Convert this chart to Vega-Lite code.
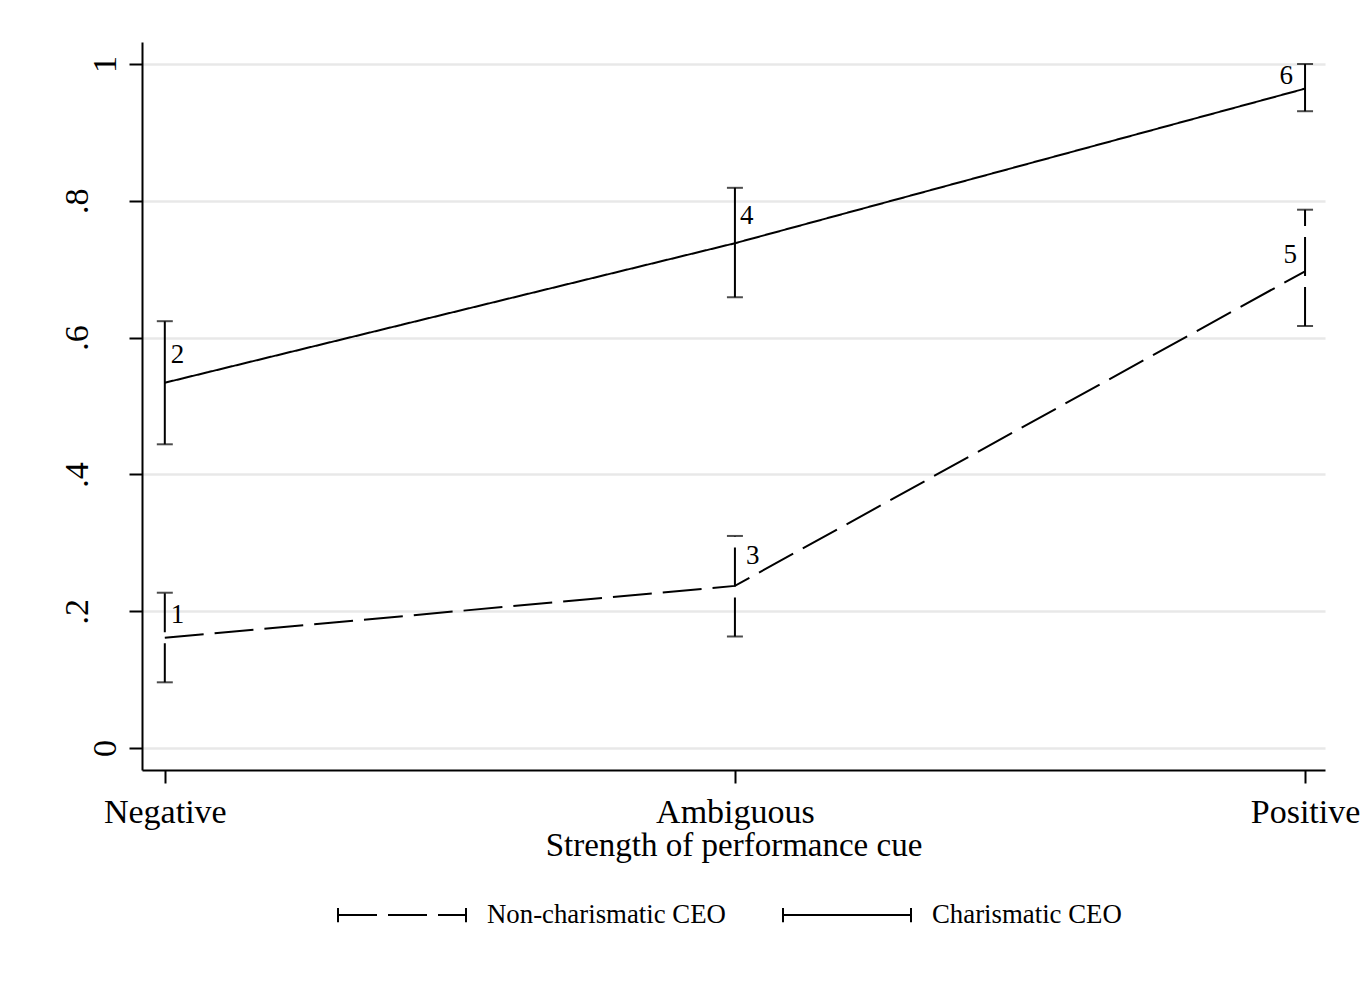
{
  "$schema": "https://vega.github.io/schema/vega-lite/v6.json",
  "width": 1183,
  "height": 728,
  "autosize": {"type": "none"},
  "padding": {"left": 142, "top": 42, "right": 40, "bottom": 217},
  "background": "white",
  "config": {"view": {"stroke": null}, "font": "Liberation Serif"},
  "data": {
    "values": [
      {"cue": "Negative", "pos": 0, "series": "Non-charismatic CEO", "est": 0.161, "lo": 0.096, "hi": 0.227, "label": "1"},
      {"cue": "Ambiguous", "pos": 1, "series": "Non-charismatic CEO", "est": 0.237, "lo": 0.163, "hi": 0.31, "label": "3"},
      {"cue": "Positive", "pos": 2, "series": "Non-charismatic CEO", "est": 0.697, "lo": 0.617, "hi": 0.787, "label": "5"},
      {"cue": "Negative", "pos": 0, "series": "Charismatic CEO", "est": 0.534, "lo": 0.444, "hi": 0.624, "label": "2"},
      {"cue": "Ambiguous", "pos": 1, "series": "Charismatic CEO", "est": 0.738, "lo": 0.659, "hi": 0.819, "label": "4"},
      {"cue": "Positive", "pos": 2, "series": "Charismatic CEO", "est": 0.964, "lo": 0.931, "hi": 1.0, "label": "6"}
    ]
  },
  "encoding": {
    "x": {
      "field": "pos",
      "type": "quantitative",
      "scale": {"domain": [-0.04, 2.035], "nice": false, "zero": false},
      "axis": {
        "values": [0, 1, 2],
        "labelExpr": "['Negative','Ambiguous','Positive'][datum.value]",
        "labelFlush": false,
        "labelAngle": 0,
        "labelFont": "Liberation Serif",
        "labelFontSize": 34,
        "labelColor": "black",
        "labelPadding": 12,
        "labelBaseline": "top",
        "tickSize": 13,
        "tickWidth": 2,
        "tickColor": "black",
        "domainColor": "black",
        "domainWidth": 2,
        "grid": false,
        "title": "Strength of performance cue",
        "titleFont": "Liberation Serif",
        "titleFontSize": 33,
        "titleFontWeight": "normal",
        "titleColor": "black",
        "titlePadding": 0
      }
    }
  },
  "layer": [
    {
      "mark": {"type": "line", "color": "black", "strokeWidth": 2},
      "encoding": {
        "y": {
          "field": "est",
          "type": "quantitative",
          "title": null,
          "scale": {"domain": [-0.0322, 1.0322], "nice": false, "zero": false},
          "axis": {
            "values": [0, 0.2, 0.4, 0.6, 0.8, 1],
            "labelExpr": "datum.value == 0 ? '0' : datum.value == 1 ? '1' : replace(format(datum.value, '.1f'), '0.', '.')",
            "labelAngle": -90,
            "labelAlign": "center",
            "labelBaseline": "alphabetic",
            "labelPadding": {"condition": {"test": "datum.value == 0 || datum.value == 1", "value": 14}, "value": 42},
            "labelFont": "Liberation Serif",
            "labelFontSize": 34,
            "labelColor": "black",
            "tickSize": 13,
            "tickWidth": 2,
            "tickColor": "black",
            "domainColor": "black",
            "domainWidth": 2,
            "grid": true,
            "gridColor": "#e8e8e8",
            "gridWidth": 2.5,
            "title": null
          }
        },
        "strokeDash": {
          "field": "series",
          "type": "nominal",
          "scale": {"domain": ["Non-charismatic CEO", "Charismatic CEO"], "range": [[39, 11], [1, 0]]},
          "legend": {
            "title": null,
            "orient": "none",
            "legendX": 195,
            "legendY": 808,
            "direction": "horizontal",
            "padding": 0,
            "symbolType": "M-1,-0.11L-1,0.11M-1,0L1,0M1,-0.11L1,0.11",
            "symbolSize": 16384,
            "symbolStrokeWidth": 2,
            "symbolStrokeColor": "black",
            "symbolFillColor": "transparent",
            "labelFont": "Liberation Serif",
            "labelFontSize": 26.8,
            "labelColor": "black",
            "labelOffset": 20,
            "columnPadding": 53,
            "labelLimit": 0
          }
        }
      }
    },
    {
      "mark": {"type": "rule", "color": "black", "strokeWidth": 2},
      "encoding": {
        "y": {"field": "lo", "type": "quantitative", "title": null},
        "y2": {"field": "hi"},
        "strokeDash": {"field": "series", "type": "nominal"}
      }
    },
    {
      "mark": {"type": "tick", "orient": "horizontal", "color": "black", "size": 16, "thickness": 2},
      "encoding": {"y": {"field": "lo", "type": "quantitative", "title": null}}
    },
    {
      "mark": {"type": "tick", "orient": "horizontal", "color": "black", "size": 16, "thickness": 2},
      "encoding": {"y": {"field": "hi", "type": "quantitative", "title": null}}
    },
    {
      "transform": [{"filter": "datum.label == '1'"}],
      "mark": {"type": "text", "align": "left", "baseline": "alphabetic", "dx": 6, "dy": -15, "fontSize": 27, "font": "Liberation Serif", "color": "black"},
      "encoding": {"y": {"field": "est", "type": "quantitative", "title": null}, "text": {"field": "label"}}
    },
    {
      "transform": [{"filter": "datum.label == '2'"}],
      "mark": {"type": "text", "align": "left", "baseline": "alphabetic", "dx": 6, "dy": -20, "fontSize": 27, "font": "Liberation Serif", "color": "black"},
      "encoding": {"y": {"field": "est", "type": "quantitative", "title": null}, "text": {"field": "label"}}
    },
    {
      "transform": [{"filter": "datum.label == '3'"}],
      "mark": {"type": "text", "align": "left", "baseline": "alphabetic", "dx": 11, "dy": -22, "fontSize": 27, "font": "Liberation Serif", "color": "black"},
      "encoding": {"y": {"field": "est", "type": "quantitative", "title": null}, "text": {"field": "label"}}
    },
    {
      "transform": [{"filter": "datum.label == '4'"}],
      "mark": {"type": "text", "align": "left", "baseline": "alphabetic", "dx": 5, "dy": -19, "fontSize": 27, "font": "Liberation Serif", "color": "black"},
      "encoding": {"y": {"field": "est", "type": "quantitative", "title": null}, "text": {"field": "label"}}
    },
    {
      "transform": [{"filter": "datum.label == '5'"}],
      "mark": {"type": "text", "align": "right", "baseline": "alphabetic", "dx": -8, "dy": -8, "fontSize": 27, "font": "Liberation Serif", "color": "black"},
      "encoding": {"y": {"field": "est", "type": "quantitative", "title": null}, "text": {"field": "label"}}
    },
    {
      "transform": [{"filter": "datum.label == '6'"}],
      "mark": {"type": "text", "align": "right", "baseline": "alphabetic", "dx": -12, "dy": -5, "fontSize": 27, "font": "Liberation Serif", "color": "black"},
      "encoding": {"y": {"field": "est", "type": "quantitative", "title": null}, "text": {"field": "label"}}
    }
  ]
}
